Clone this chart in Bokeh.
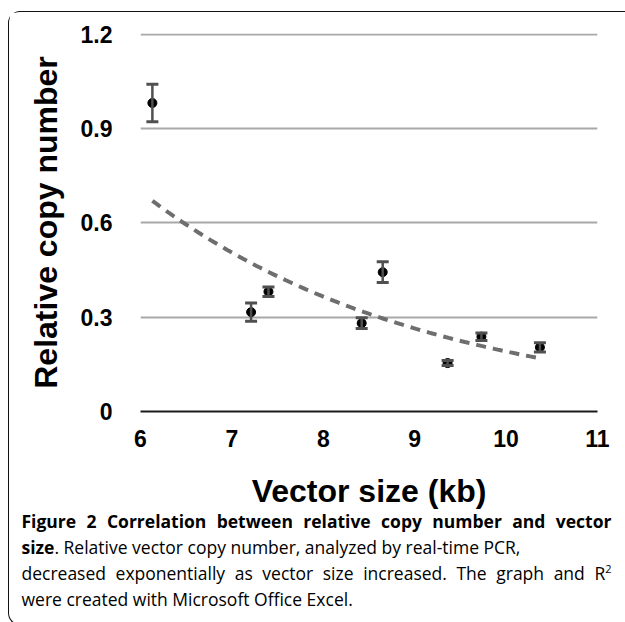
import numpy as np
from bokeh.plotting import figure
from bokeh.layouts import column
from bokeh.models import (ColumnDataSource, Whisker, FixedTicker, Range1d, TeeHead, Div)
from bokeh.embed import file_html
from bokeh.resources import INLINE

# ---- data ----
vector_size_kb = [6.13, 7.21, 7.40, 8.42, 8.65, 9.36, 9.73, 10.37]
relative_copy = [0.981, 0.316, 0.381, 0.281, 0.443, 0.154, 0.238, 0.204]
copy_error = [0.060, 0.029, 0.015, 0.017, 0.033, 0.008, 0.012, 0.015]
x_ticks = [6, 7, 8, 9, 10, 11]
y_ticks = [0, 0.3, 0.6, 0.9, 1.2]
y_tick_labels = ["0", "0.3", "0.6", "0.9", "1.2"]
x_title = "Vector size (kb)"
y_title = "Relative copy number"
caption_bold_1 = "Figure 2 Correlation between relative copy number and vector"
caption_bold_2 = "size"
caption_rest_2 = ". Relative vector copy number, analyzed by real-time PCR,"
caption_3 = "decreased exponentially as vector size increased. The graph and R"
caption_3_sup = "2"
caption_4 = "were created with Microsoft Office Excel."

# exponential trendline (least squares on ln y, as Excel does)
xs = np.array(vector_size_kb)
ys = np.array(relative_copy)
b, ln_a = np.polyfit(xs, np.log(ys), 1)
trend_x = np.linspace(xs.min(), xs.max(), 120)
trend_y = np.exp(ln_a + b * trend_x)

src = ColumnDataSource(dict(
    x=vector_size_kb, y=relative_copy,
    upper=[v + e for v, e in zip(relative_copy, copy_error)],
    lower=[v - e for v, e in zip(relative_copy, copy_error)],
))

p = figure(width=615, height=511, output_backend="svg", toolbar_location=None,
           x_range=Range1d(6, 11), y_range=Range1d(0, 1.202),
           min_border_left=131, min_border_right=27, min_border_top=21,
           min_border_bottom=112)
p.outline_line_color = None
p.background_fill_color = "white"
p.border_fill_color = "white"

# grid
p.xgrid.visible = False
p.ygrid.ticker = FixedTicker(ticks=y_ticks)
p.ygrid.grid_line_color = "#a8a8a8"
p.ygrid.grid_line_width = 2

# axes
AX_FONT = "Liberation Sans"
p.xaxis.ticker = FixedTicker(ticks=x_ticks)
p.yaxis.ticker = FixedTicker(ticks=y_ticks)
p.yaxis.major_label_overrides = {t: l for t, l in zip(y_ticks, y_tick_labels)}
p.xaxis.major_label_overrides = {t: str(t) for t in x_ticks}
for ax in (p.xaxis[0], p.yaxis[0]):
    ax.major_tick_line_color = None
    ax.minor_tick_line_color = None
    ax.major_tick_out = 0
    ax.major_tick_in = 0
    ax.major_label_text_font = AX_FONT
    ax.major_label_text_font_style = "bold"
    ax.major_label_text_font_size = "23px"
    ax.major_label_text_color = "black"
    ax.axis_label_text_font = AX_FONT
    ax.axis_label_text_font_style = "bold"
    ax.axis_label_text_font_size = "32px"
    ax.axis_label_text_color = "black"
p.yaxis.axis_line_color = None
p.xaxis.axis_line_color = "#1a1a1a"
p.xaxis.axis_line_width = 2
p.xaxis.axis_label = x_title
p.yaxis.axis_label = y_title
p.yaxis.major_label_standoff = 28
p.xaxis.major_label_standoff = 18
p.yaxis.axis_label_standoff = 14
p.xaxis.axis_label_standoff = 23

# trendline
p.line(trend_x, trend_y, line_dash="10 7", line_width=4, line_color="#6e6e6e")

# error bars
head_up = TeeHead(size=12, line_color="#505050", line_width=3)
head_lo = TeeHead(size=12, line_color="#505050", line_width=3)
wh = Whisker(source=src, base="x", upper="upper", lower="lower",
             line_color="#505050", line_width=2.5,
             upper_head=head_up, lower_head=head_lo, level="glyph")
p.add_layout(wh)

# points
p.scatter("x", "y", source=src, size=9, color="black")

# ---- caption ----
just = "text-align:justify;text-align-last:justify;"
html = (
    '<div style="box-sizing:border-box;font-family:\'Open Sans\',sans-serif;'
    'font-size:17.5px;line-height:26px;color:#000;padding:0 12.5px 0 7.5px;'
    'width:610px;">'
    f'<div style="{just}font-weight:bold;">{caption_bold_1}</div>'
    f'<div><b>{caption_bold_2}</b>{caption_rest_2}</div>'
    f'<div style="{just}">{caption_3}<sup style="font-size:11px;line-height:0;">'
    f'{caption_3_sup}</sup></div>'
    f'<div>{caption_4}</div>'
    '</div>'
)
cap = Div(text=html, width=610, height=111, styles={"margin-top": "-15px"})

layout = column(p, cap, spacing=0, styles={
    "border": "1.5px solid #111",
    "border-right": "none",
    "border-radius": "12px 0 0 12px",
    "margin-top": "11px",
    "margin-left": "8px",
})

open("out.html", "w").write(file_html(layout, INLINE))
